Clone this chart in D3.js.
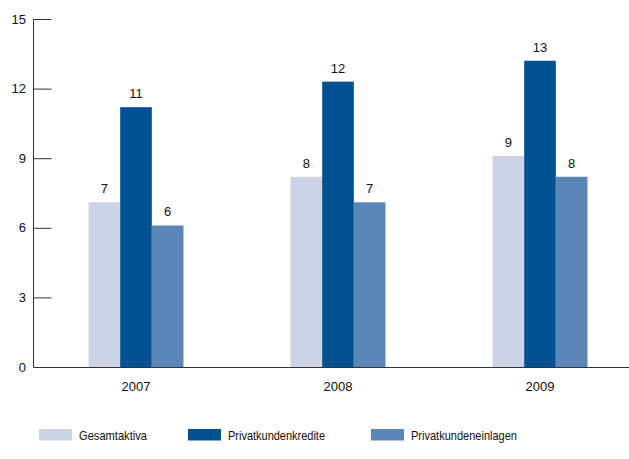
<!DOCTYPE html>
<html>
<head>
<meta charset="utf-8">
<script src="https://cdn.jsdelivr.net/npm/d3@7/dist/d3.min.js"></script>
<style>
  html, body { margin: 0; padding: 0; background: #fff; }
  svg { display: block; font-family: "Liberation Sans", Arial, sans-serif; }
</style>
</head>
<body>
<svg id="chart" width="629" height="459"></svg>
<script>
// Wachstum in Mrd. EUR je Jahr
const years = ["2007", "2008", "2009"];
const seriesNames = ["Gesamtaktiva", "Privatkundenkredite", "Privatkundeneinlagen"];
const gesamtaktiva = [7.1, 8.2, 9.1];
const privatkundenkredite = [11.2, 12.3, 13.2];
const privatkundeneinlagen = [6.1, 7.1, 8.2];
const yTicks = [0, 3, 6, 9, 12, 15];
const colors = ["#cdd3e6", "#005192", "#5b86b8"];

const seriesValues = [gesamtaktiva, privatkundenkredite, privatkundeneinlagen];
const rows = years.map((year, i) => ({
  year,
  values: seriesNames.map((name, s) => ({ name, value: seriesValues[s][i], color: colors[s] }))
}));

const svg = d3.select("#chart");
const axisX = 33.5, yTop = 19, yBottom = 367;

const y = d3.scaleLinear().domain([0, 15]).range([yBottom, yTop]);
const x0 = d3.scaleBand().domain(years).range([35, 641]).paddingInner(0.53).paddingOuter(0.265);
const x1 = d3.scaleBand().domain(seriesNames).range([0, x0.bandwidth()]);

// bars
const groups = svg.append("g").selectAll("g").data(rows).join("g")
  .attr("transform", d => `translate(${x0(d.year)},0)`);

groups.selectAll("rect").data(d => d.values).join("rect")
  .attr("x", d => x1(d.name))
  .attr("width", x1.bandwidth())
  .attr("y", d => y(d.value))
  .attr("height", d => y(0) - y(d.value))
  .attr("fill", d => d.color);

groups.selectAll("text").data(d => d.values).join("text")
  .attr("x", d => x1(d.name) + x1.bandwidth() / 2)
  .attr("y", d => y(d.value) - 9)
  .attr("text-anchor", "middle")
  .attr("font-size", 13)
  .attr("fill", "#111")
  .text(d => d3.format(".0f")(d.value));

// y axis: ticks point into the plot
const yAxis = d3.axisRight(y).tickValues(yTicks).tickSize(18).tickFormat("");
const yg = svg.append("g").attr("transform", `translate(${axisX},0)`).call(yAxis);
yg.select(".domain").remove();
yg.selectAll(".tick line").attr("stroke", "#333").attr("stroke-width", 1);

svg.append("line")
  .attr("x1", axisX).attr("x2", axisX)
  .attr("y1", yTop).attr("y2", yBottom)
  .attr("stroke", "#333");

svg.append("g").selectAll("text").data(yTicks).join("text")
  .attr("x", 26)
  .attr("y", d => y(d) + 4.5)
  .attr("text-anchor", "end")
  .attr("font-size", 13)
  .attr("fill", "#111")
  .text(d => d);

// x axis baseline and year labels
svg.append("line")
  .attr("x1", axisX).attr("x2", 629)
  .attr("y1", y(0) + 0.5).attr("y2", y(0) + 0.5)
  .attr("stroke", "#333");

const xAxis = d3.axisBottom(x0).tickSize(0).tickPadding(0);
const xg = svg.append("g").attr("transform", `translate(0,${y(0)})`).call(xAxis);
xg.select(".domain").remove();
xg.selectAll(".tick text")
  .attr("y", 24)
  .attr("dy", 0)
  .attr("font-size", 13)
  .attr("font-family", "Liberation Sans, Arial, sans-serif")
  .attr("fill", "#111");

// legend (narrow lettering)
const legendX = [39, 188, 371];
const legendTextWidth = [68, 97, 106];
const legend = svg.append("g").selectAll("g").data(seriesNames).join("g")
  .attr("transform", (d, i) => `translate(${legendX[i]},429)`);
legend.append("rect")
  .attr("width", 33).attr("height", 11.5)
  .attr("fill", (d, i) => colors[i]);
legend.append("text")
  .attr("x", 40).attr("y", 11)
  .attr("font-size", 13)
  .attr("fill", "#111")
  .attr("textLength", (d, i) => legendTextWidth[i])
  .attr("lengthAdjust", "spacingAndGlyphs")
  .text(d => d);
</script>
</body>
</html>
